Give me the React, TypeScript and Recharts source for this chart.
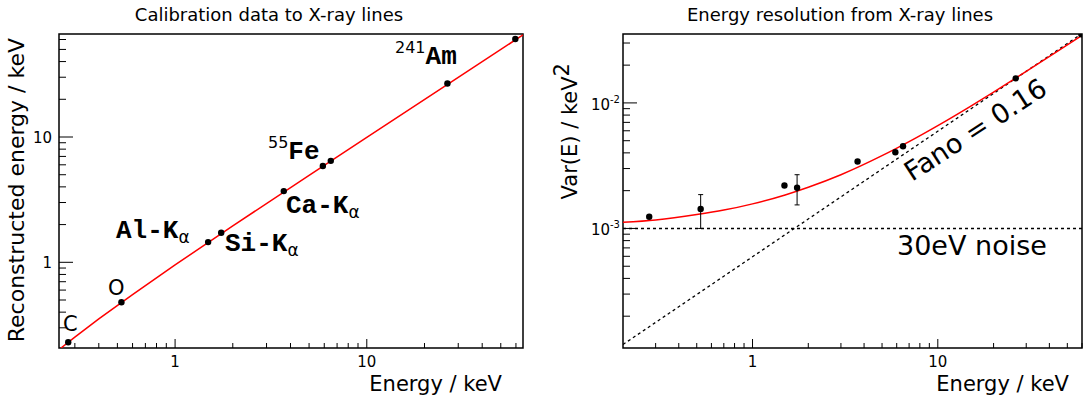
import React from 'react';
import {
  ComposedChart,
  Line,
  Scatter,
  XAxis,
  YAxis,
  ReferenceArea,
  ReferenceLine,
  ErrorBar,
} from 'recharts';

// X-ray line energies in keV (C, O, Al-Ka, Si-Ka, Ca-Ka, Mn-Ka, Mn-Kb, 241Am 26 keV, 241Am 60 keV)
const lineEnergy = [0.277, 0.525, 1.487, 1.74, 3.69, 5.9, 6.49, 26.34, 59.54];

// left panel: reconstructed energy / keV
const recoEnergy = [0.23, 0.48, 1.45, 1.72, 3.7, 5.87, 6.45, 26.7, 60.5];
// calibration fit
const calibFitX = [0.254, 0.3, 0.4, 0.6, 1, 2, 5, 10, 30, 65.3];
const calibFitY = [0.207, 0.253, 0.353, 0.553, 0.953, 1.953, 4.95, 9.95, 29.95, 65.25];

// right panel: Var(E) / keV^2
const variance = [1.24e-3, 1.43e-3, 2.2e-3, 2.11e-3, 3.41e-3, 4.05e-3, 4.52e-3, 0.0157, 0.0352];
const varianceErr = [0, 0.43e-3, 0, 0.57e-3, 0, 0, 0, 0, 0];
// resolution fit
const resFitX = [0.2, 0.3, 0.5, 0.7, 1, 1.5, 2, 3, 5, 7, 10, 15, 20, 30, 45, 60];
const resFitY = [
  1.12e-3, 1.17e-3, 1.29e-3, 1.4e-3, 1.57e-3, 1.85e-3, 2.13e-3, 2.68e-3, 3.8e-3, 4.92e-3,
  6.6e-3, 9.4e-3, 0.0122, 0.0178, 0.0262, 0.0346,
];
const fanoX = [0.2, 60];
const fanoY = [1.19e-4, 0.0357];
const noiseLevel = 1e-3;

// axes
const calibXDomain = [0.248, 65.3];
const calibYDomain = [0.207, 66.4];
const resXDomain = [0.2, 60];
const resYDomain = [1.116e-4, 0.0354];

const decadeTicks = [0.3, 0.4, 0.5, 0.6, 0.7, 0.8, 0.9, 1, 2, 3, 4, 5, 6, 7, 8, 9, 10, 20, 30, 40, 50, 60];
const varTicks = [
  2e-4, 3e-4, 4e-4, 5e-4, 6e-4, 7e-4, 8e-4, 9e-4, 1e-3, 2e-3, 3e-3, 4e-3, 5e-3, 6e-3, 7e-3,
  8e-3, 9e-3, 1e-2, 2e-2, 3e-2,
];
const energyMajors = [1, 10];
const varMajors = [1e-3, 1e-2];
const varMajorExp: Record<string, string> = { '0.001': '-3', '0.01': '-2' };

const sans = 'DejaVu Sans';
const mono = 'Liberation Mono';

const calibPoints = lineEnergy.map((e, i) => ({ x: e, y: recoEnergy[i] }));
const calibFit = calibFitX.map((x, i) => ({ x, y: calibFitY[i] }));
const resPoints = lineEnergy.map((e, i) => ({ x: e, y: variance[i], err: varianceErr[i] }));
const resFit = resFitX.map((x, i) => ({ x, y: resFitY[i] }));
const fanoLine = fanoX.map((x, i) => ({ x, y: fanoY[i] }));

const XTick = ({ x, y, payload }: any) => {
  const major = energyMajors.includes(payload.value);
  return (
    <g>
      <line x1={x} x2={x} y1={y} y2={y - (major ? 9 : 5)} stroke="#000" strokeWidth={1} />
      {major && (
        <text x={x} y={y + 19} textAnchor="middle" fontSize={15} fontFamily={sans} fill="#000">
          {payload.value}
        </text>
      )}
    </g>
  );
};

const CalibYTick = ({ x, y, payload }: any) => {
  const major = energyMajors.includes(payload.value);
  return (
    <g>
      <line x1={x} x2={x + (major ? 14 : 7)} y1={y} y2={y} stroke="#000" strokeWidth={1} />
      {major && (
        <text x={x - 7} y={y + 6} textAnchor="end" fontSize={15} fontFamily={sans} fill="#000">
          {payload.value}
        </text>
      )}
    </g>
  );
};

const VarYTick = ({ x, y, payload }: any) => {
  const major = varMajors.includes(payload.value);
  return (
    <g>
      <line x1={x} x2={x + (major ? 14 : 7)} y1={y} y2={y} stroke="#000" strokeWidth={1} />
      {major && (
        <text x={x - 3} y={y + 7} textAnchor="end" fontSize={15} fontFamily={sans} fill="#000">
          10
          <tspan fontSize={10} dy={-7}>
            {varMajorExp[String(payload.value)]}
          </tspan>
        </text>
      )}
    </g>
  );
};

const Dot = (p: any) => <circle cx={p.cx} cy={p.cy} r={3.2} fill="#000" />;

export default function App() {
  return (
    <div style={{ position: 'absolute', left: 0, top: 0, width: 1083, height: 398, background: '#fff' }}>
      <div style={{ position: 'absolute', left: 0, top: 0 }}>
        <ComposedChart width={540} height={398} margin={{ top: 34, right: 17, bottom: 20, left: 9 }}>
          <XAxis
            type="number"
            dataKey="x"
            scale="log"
            domain={calibXDomain}
            allowDataOverflow
            ticks={decadeTicks}
            interval={0}
            tick={<XTick />}
            tickSize={0}
            tickMargin={0}
            tickLine={false}
            axisLine={false}
            height={30}
          />
          <YAxis
            type="number"
            dataKey="y"
            scale="log"
            domain={calibYDomain}
            allowDataOverflow
            ticks={decadeTicks}
            interval={0}
            tick={<CalibYTick />}
            tickSize={0}
            tickMargin={0}
            tickLine={false}
            axisLine={false}
            width={50}
          />
          <ReferenceArea
            x1={calibXDomain[0]}
            x2={calibXDomain[1]}
            y1={calibYDomain[0]}
            y2={calibYDomain[1]}
            fill="none"
            fillOpacity={0}
            stroke="#000"
            strokeWidth={1.5}
          />
          <Line data={calibFit} dataKey="y" type="linear" stroke="#ff0000" strokeWidth={1.5} dot={false} isAnimationActive={false} />
          <Scatter data={calibPoints} dataKey="y" shape={<Dot />} isAnimationActive={false} />
        </ComposedChart>
      </div>
      <div style={{ position: 'absolute', left: 540, top: 0 }}>
        <ComposedChart width={543} height={398} margin={{ top: 34, right: 1, bottom: 20, left: 33 }}>
          <XAxis
            type="number"
            dataKey="x"
            scale="log"
            domain={resXDomain}
            allowDataOverflow
            ticks={decadeTicks}
            interval={0}
            tick={<XTick />}
            tickSize={0}
            tickMargin={0}
            tickLine={false}
            axisLine={false}
            height={30}
          />
          <YAxis
            type="number"
            dataKey="y"
            scale="log"
            domain={resYDomain}
            allowDataOverflow
            ticks={varTicks}
            interval={0}
            tick={<VarYTick />}
            tickSize={0}
            tickMargin={0}
            tickLine={false}
            axisLine={false}
            width={50}
          />
          <ReferenceArea
            x1={resXDomain[0]}
            x2={resXDomain[1]}
            y1={resYDomain[0]}
            y2={resYDomain[1]}
            fill="none"
            fillOpacity={0}
            stroke="#000"
            strokeWidth={1.5}
          />
          <ReferenceLine y={noiseLevel} stroke="#000" strokeWidth={1.5} strokeDasharray="3 3" />
          <Line data={fanoLine} dataKey="y" type="linear" stroke="#000" strokeWidth={1.3} strokeDasharray="3 3" dot={false} isAnimationActive={false} />
          <Line data={resFit} dataKey="y" type="monotone" stroke="#ff0000" strokeWidth={1.5} dot={false} isAnimationActive={false} />
          <Scatter data={resPoints} dataKey="y" shape={<Dot />} isAnimationActive={false}>
            <ErrorBar dataKey="err" direction="y" width={2.5} stroke="#000" strokeWidth={1} />
          </Scatter>
        </ComposedChart>
      </div>
      <svg
        width={1083}
        height={398}
        style={{ position: 'absolute', left: 0, top: 0, pointerEvents: 'none' }}
        fontFamily={sans}
        fill="#000"
      >
        <text x={269} y={21} textAnchor="middle" fontSize={18}>
          Calibration data to X-ray lines
        </text>
        <text x={840} y={21} textAnchor="middle" fontSize={18}>
          Energy resolution from X-ray lines
        </text>
        <text x={502} y={391} textAnchor="end" fontSize={21}>
          Energy / keV
        </text>
        <text x={1069} y={391} textAnchor="end" fontSize={21}>
          Energy / keV
        </text>
        <text transform="translate(24,38) rotate(-90)" textAnchor="end" fontSize={22}>
          Reconstructed energy / keV
        </text>
        <text transform="translate(577,63) rotate(-90)" textAnchor="end" fontSize={21}>
          Var(E) / keV
          <tspan dy={-8} fontSize={21}>
            2
          </tspan>
        </text>

        <text x={63} y={331} fontSize={21}>C</text>
        <text x={108} y={295} fontSize={21}>O</text>
        <text x={116} y={238} fontSize={26} fontFamily={mono} fontWeight="bold">
          Al-K<tspan fontSize={17} dy={5} fontFamily={sans} fontWeight="normal">α</tspan>
        </text>
        <text x={225} y={251} fontSize={26} fontFamily={mono} fontWeight="bold">
          Si-K<tspan fontSize={17} dy={5} fontFamily={sans} fontWeight="normal">α</tspan>
        </text>
        <text x={286} y={213} fontSize={26} fontFamily={mono} fontWeight="bold">
          Ca-K<tspan fontSize={17} dy={5} fontFamily={sans} fontWeight="normal">α</tspan>
        </text>
        <text x={268} y={159}>
          <tspan fontSize={16} dy={-11}>55</tspan>
          <tspan fontSize={26} dy={11} fontFamily={mono} fontWeight="bold">Fe</tspan>
        </text>
        <text x={395} y={64}>
          <tspan fontSize={16} dy={-11}>241</tspan>
          <tspan fontSize={26} dy={11} fontFamily={mono} fontWeight="bold">Am</tspan>
        </text>

        <text x={897} y={255} fontSize={27}>
          30eV noise
        </text>
        <text transform="translate(912,182) rotate(-33)" fontSize={27}>
          Fano = 0.16
        </text>
      </svg>
    </div>
  );
}
